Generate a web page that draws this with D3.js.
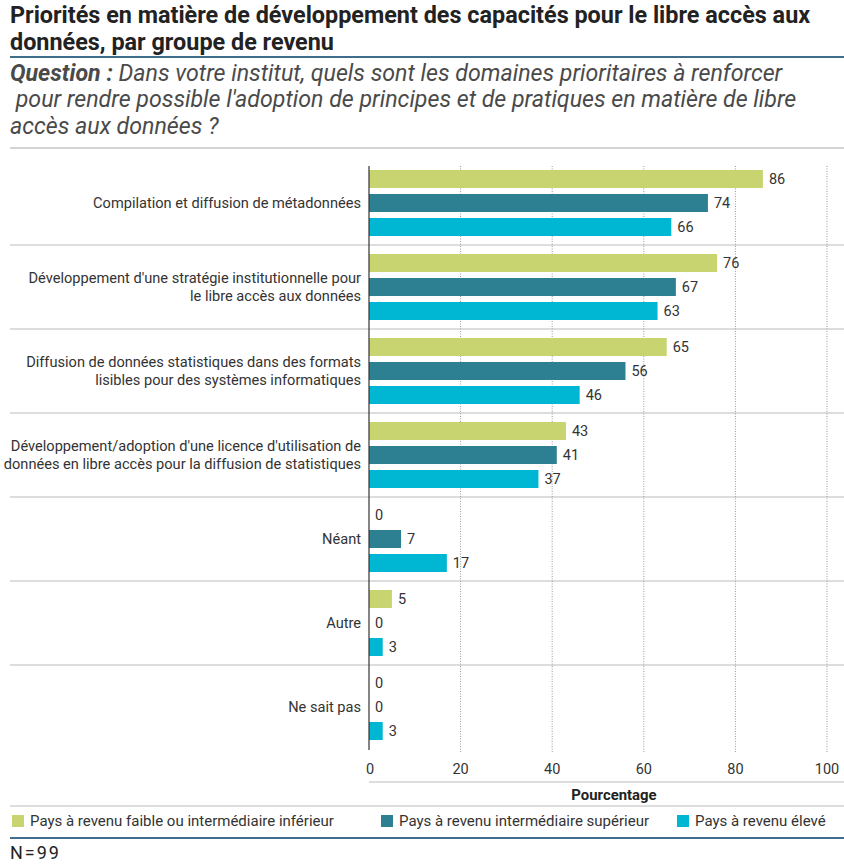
<!DOCTYPE html>
<html>
<head>
<meta charset="utf-8">
<script src="https://cdn.jsdelivr.net/npm/d3@7"></script>
<style>
  body { margin: 0; background: #fff; }
  svg { display: block; font-family: "Roboto", "Liberation Sans", sans-serif; }
</style>
</head>
<body>
<div id="chart"></div>
<script>
// categories, top to bottom (each may span two lines)
const categories = [
  ["Compilation et diffusion de métadonnées"],
  ["Développement d'une stratégie institutionnelle pour", "le libre accès aux données"],
  ["Diffusion de données statistiques dans des formats", "lisibles pour des systèmes informatiques"],
  ["Développement/adoption d'une licence d'utilisation de", "données en libre accès pour la diffusion de statistiques"],
  ["Néant"],
  ["Autre"],
  ["Ne sait pas"]
];
const seriesNames = [
  "Pays à revenu faible ou intermédiaire inférieur",
  "Pays à revenu intermédiaire supérieur",
  "Pays à revenu élevé"
];
const lowIncome = [86, 76, 65, 43, 0, 5, 0];
const upperMiddle = [74, 67, 56, 41, 7, 0, 0];
const highIncome = [66, 63, 46, 37, 17, 3, 3];
const xTicks = [0, 20, 40, 60, 80, 100];

const colors = ['#c8d46f', '#2d7f92', '#00b7d3'];
const allSeries = [lowIncome, upperMiddle, highIncome];

const W = 844, H = 864;
const svg = d3.select("#chart").append("svg").attr("width", W).attr("height", H);

// title
const title = svg.append("text").attr("font-size", 23.4).attr("font-weight", "bold").attr("fill", "#222");
title.append("tspan").attr("x", 10).attr("y", 23).text("Priorités en matière de développement des capacités pour le libre accès aux");
title.append("tspan").attr("x", 10).attr("y", 50).text("données, par groupe de revenu");
svg.append("line").attr("x1", 10).attr("x2", W).attr("y1", 57).attr("y2", 57)
  .attr("stroke", "#3f6d8c").attr("stroke-width", 2);

// question
const q = svg.append("text").attr("font-size", 23.2).attr("font-style", "italic").attr("fill", "#4a4a4a");
q.append("tspan").attr("x", 10).attr("y", 81).attr("font-weight", "bold").text("Question : ");
q.append("tspan").text("Dans votre institut, quels sont les domaines prioritaires à renforcer");
q.append("tspan").attr("x", 10).attr("y", 107).text("\u00a0pour rendre possible l'adoption de principes et de pratiques en matière de libre");
q.append("tspan").attr("x", 10).attr("y", 134).text("accès aux données ?");
svg.append("line").attr("x1", 10).attr("x2", W).attr("y1", 148).attr("y2", 148)
  .attr("stroke", "#aaa").attr("stroke-width", 1.2);

// scales
const x = d3.scaleLinear().domain([0, 100]).range([369, 827]);
const y = d3.scaleBand().domain(d3.range(categories.length)).range([161, 749]);
const ySub = d3.scalePoint().domain([0, 1, 2]).range([18, 66]);
const barH = 18;

// group separators
svg.append("g").selectAll("line").data(d3.range(1, categories.length)).join("line")
  .attr("x1", 10).attr("x2", W)
  .attr("y1", d => y(d)).attr("y2", d => y(d))
  .attr("stroke", "#bbb").attr("stroke-width", 1.2);

// dotted gridlines
svg.append("g").selectAll("line").data(xTicks.slice(1)).join("line")
  .attr("x1", d => x(d)).attr("x2", d => x(d))
  .attr("y1", 166).attr("y2", 752)
  .attr("stroke", "#999").attr("stroke-width", 1).attr("stroke-dasharray", "1,1.5");

// bars
const groups = svg.append("g").selectAll("g").data(categories).join("g")
  .attr("transform", (d, i) => `translate(0,${y(i)})`);

allSeries.forEach((s, k) => {
  groups.append("rect")
    .attr("x", x(0))
    .attr("y", ySub(k) - barH / 2)
    .attr("width", (d, i) => x(s[i]) - x(0))
    .attr("height", barH)
    .attr("fill", colors[k]);
  groups.append("text")
    .attr("x", (d, i) => x(s[i]) + 6)
    .attr("y", ySub(k))
    .attr("dy", "0.36em")
    .attr("font-size", 14.5)
    .attr("fill", "#333")
    .text((d, i) => s[i]);
});

// category labels
groups.append("text")
  .attr("text-anchor", "end")
  .attr("font-size", 14.6)
  .attr("fill", "#333")
  .each(function(d) {
    const t = d3.select(this);
    const off = (d.length - 1) * 9;
    d.forEach((line, j) => {
      t.append("tspan").attr("x", 361).attr("y", y.bandwidth() / 2 - off + j * 18)
        .attr("dy", "0.36em").text(line);
    });
  });

// vertical axis line
svg.append("line").attr("x1", x(0)).attr("x2", x(0)).attr("y1", 166).attr("y2", 750)
  .attr("stroke", "#333").attr("stroke-width", 1.2);

// x tick labels
svg.append("g").selectAll("text").data(xTicks).join("text")
  .attr("x", d => x(d)).attr("y", 769).attr("dy", "0.36em")
  .attr("text-anchor", d => d === 0 ? "start" : "middle")
  .attr("dx", d => d === 0 ? -3 : 0)
  .attr("font-size", 14.5).attr("fill", "#333")
  .text(d => d);

svg.append("line").attr("x1", x(0)).attr("x2", W).attr("y1", 782).attr("y2", 782)
  .attr("stroke", "#bbb").attr("stroke-width", 1.2);
svg.append("text").attr("x", 614).attr("y", 795).attr("dy", "0.36em")
  .attr("text-anchor", "middle").attr("font-size", 14.9).attr("font-weight", "bold").attr("fill", "#222")
  .text("Pourcentage");
svg.append("line").attr("x1", 10).attr("x2", W).attr("y1", 806).attr("y2", 806)
  .attr("stroke", "#bbb").attr("stroke-width", 1.2);

// legend
const legendX = [12, 381, 677];
const legend = svg.append("g").selectAll("g").data(seriesNames).join("g")
  .attr("transform", (d, i) => `translate(${legendX[i]},821)`);
legend.append("rect").attr("x", 0).attr("y", -6).attr("width", 12).attr("height", 12)
  .attr("fill", (d, i) => colors[i]);
legend.append("text").attr("x", 18).attr("dy", "0.36em")
  .attr("font-size", 15).attr("fill", "#333").text(d => d);

svg.append("line").attr("x1", 10).attr("x2", W).attr("y1", 838).attr("y2", 838)
  .attr("stroke", "#3f6d8c").attr("stroke-width", 2);
svg.append("text").attr("x", 10).attr("y", 853).attr("dy", "0.36em")
  .attr("font-size", 18).attr("letter-spacing", 2).attr("fill", "#222").text("N=99");
</script>
</body>
</html>
